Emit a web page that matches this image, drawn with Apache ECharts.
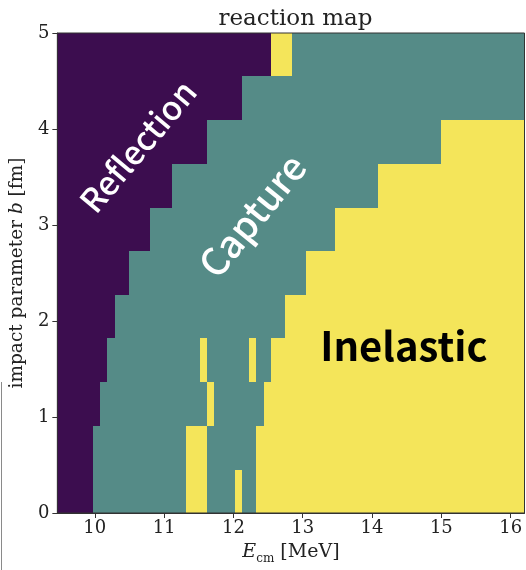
<!DOCTYPE html>
<html>
<head>
<meta charset="utf-8">
<script src="https://cdn.jsdelivr.net/npm/echarts@6/dist/echarts.min.js"></script>
<style>
  html, body { margin: 0; padding: 0; background: #ffffff; }
  #chart { width: 526px; height: 570px; }
</style>
</head>
<body>
<div id="chart"></div>
<script>
// Reaction classes and their colours
const classNames = ['Reflection', 'Capture', 'Inelastic'];
const classColors = ['#3c0d4f', '#558b87', '#f4e55a'];

// Axis ranges and ticks
const energyRange = [9.46, 16.2];
const impactRange = [0, 5];
const xTicks = [10, 11, 12, 13, 14, 15, 16];
const yTicks = [0, 1, 2, 3, 4, 5];

// Impact parameter bin edges (fm), bottom to top
const bEdges = [0, 0.45, 0.91, 1.36, 1.82, 2.27, 2.73, 3.18, 3.64, 4.09, 4.55, 5];

// For each b bin: energies (MeV) where the outcome changes
const rowBreaks = [
  [9.98, 11.31, 11.62, 12.03, 12.13, 12.33],
  [9.98, 11.31, 11.62, 12.33],
  [10.08, 11.62, 11.72, 12.44],
  [10.18, 11.52, 11.62, 12.23, 12.33, 12.54],
  [10.29, 12.74],
  [10.49, 13.05],
  [10.80, 13.46],
  [11.11, 14.08],
  [11.62, 15.00],
  [12.13],
  [12.54, 12.85]
];

// For each b bin: outcome of every energy segment (index into classNames)
const rowClasses = [
  [0, 1, 2, 1, 2, 1, 2],
  [0, 1, 2, 1, 2],
  [0, 1, 2, 1, 2],
  [0, 1, 2, 1, 2, 1, 2],
  [0, 1, 2],
  [0, 1, 2],
  [0, 1, 2],
  [0, 1, 2],
  [0, 1, 2],
  [0, 1],
  [0, 2, 1]
];

// Region annotations placed in data coordinates
const labelNames = ['Reflection', 'Capture', 'Inelastic'];
const labelE = [10.62, 12.27, 14.46];
const labelB = [3.82, 3.1, 1.74];

// Build cell list: [E0, E1, b0, b1, class]
const cells = [];
rowBreaks.forEach(function (breaks, r) {
  const edges = [energyRange[0]].concat(breaks, [energyRange[1]]);
  for (let i = 0; i < edges.length - 1; i++) {
    cells.push([edges[i], edges[i + 1], bEdges[r], bEdges[r + 1], rowClasses[r][i]]);
  }
});

const serif = 'DejaVu Serif';
const labelStyles = [
  { color: '#ffffff', fontSize: 33, fontWeight: 500, rotate: 50 },
  { color: '#ffffff', fontSize: 38, fontWeight: 500, rotate: 51 },
  { color: '#000000', fontSize: 40, fontWeight: 'bold', rotate: 0 }
];

const chart = echarts.init(document.getElementById('chart'), null, { renderer: 'canvas' });

chart.setOption({
  animation: false,
  backgroundColor: '#ffffff',
  title: {
    text: 'reaction map',
    left: 290.5,
    textAlign: 'center',
    top: 3,
    textStyle: { fontFamily: serif, fontWeight: 'normal', fontSize: 23, color: '#222222' }
  },
  grid: {
    left: 57, right: 1.5, top: 33, bottom: 51,
    show: true, z: 10, borderColor: '#333333', borderWidth: 1,
    backgroundColor: 'transparent'
  },
  xAxis: {
    type: 'value',
    min: energyRange[0], max: energyRange[1],
    name: '{e|E}{s|cm}{n| [MeV]}',
    nameLocation: 'middle',
    nameGap: 26,
    nameTextStyle: {
      rich: {
        e: { fontFamily: serif, fontStyle: 'italic', fontSize: 19, color: '#222', lineHeight: 26, verticalAlign: 'middle' },
        s: { fontFamily: serif, fontSize: 12, color: '#222', lineHeight: 12, verticalAlign: 'bottom' },
        n: { fontFamily: serif, fontSize: 19, color: '#222', lineHeight: 26, verticalAlign: 'middle' }
      }
    },
    splitLine: { show: false },
    axisLine: { show: true, onZero: false, lineStyle: { color: '#333333', width: 1 } },
    axisTick: { show: true, length: 5, customValues: xTicks, lineStyle: { color: '#333333' } },
    axisLabel: { customValues: xTicks, margin: 6, fontFamily: serif, fontSize: 18, color: '#222222' }
  },
  yAxis: {
    type: 'value',
    min: impactRange[0], max: impactRange[1], interval: 1,
    name: '{n|impact parameter }{i|b}{n| [fm]}',
    nameLocation: 'middle',
    nameGap: 30,
    nameTextStyle: {
      rich: {
        n: { fontFamily: serif, fontSize: 18.5, color: '#222' },
        i: { fontFamily: serif, fontStyle: 'italic', fontSize: 18.5, color: '#222' }
      }
    },
    splitLine: { show: false },
    axisLine: { show: true, onZero: false, lineStyle: { color: '#333333', width: 1 } },
    axisTick: { show: true, length: 5, lineStyle: { color: '#333333' } },
    axisLabel: { margin: 8, fontFamily: serif, fontSize: 18, color: '#222222',
      formatter: function (v) { return yTicks.indexOf(v) >= 0 ? String(v) : ''; } }
  },
  series: [
    {
      type: 'custom',
      clip: true,
      encode: { x: [0, 1], y: [2, 3] },
      data: cells,
      renderItem: function (params, api) {
        const p0 = api.coord([api.value(0), api.value(3)]);
        const p1 = api.coord([api.value(1), api.value(2)]);
        const x0 = Math.round(p0[0]), y0 = Math.round(p0[1]);
        const x1 = Math.round(p1[0]), y1 = Math.round(p1[1]);
        return {
          type: 'rect',
          shape: { x: x0, y: y0, width: x1 - x0, height: y1 - y0 },
          style: { fill: classColors[api.value(4)] }
        };
      }
    },
    {
      type: 'scatter',
      symbolSize: 0,
      z: 5,
      silent: true,
      itemStyle: { opacity: 1 },
      data: labelNames.map(function (name, i) {
        const s = labelStyles[i];
        return {
          value: [labelE[i], labelB[i]],
          label: {
            show: true,
            position: 'inside',
            formatter: name,
            rotate: s.rotate,
            color: s.color,
            opacity: 1,
            fontSize: s.fontSize,
            fontWeight: s.fontWeight,
            fontFamily: 'Noto Sans CJK JP'
          }
        };
      })
    }
  ],
  graphic: [
    {
      type: 'line',
      shape: { x1: 1.5, y1: 382, x2: 1.5, y2: 570 },
      style: { stroke: '#8a8a8a', lineWidth: 1 }
    }
  ]
});
</script>
</body>
</html>
